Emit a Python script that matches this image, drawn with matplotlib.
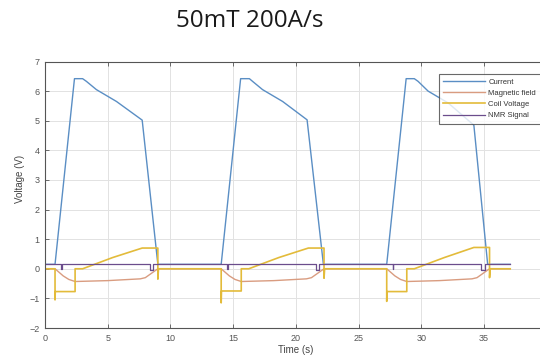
import numpy as np
import matplotlib
matplotlib.use("Agg")
import matplotlib.pyplot as plt

plt.rcParams['font.family'] = ['Liberation Sans', 'DejaVu Sans']

# --- measured traces (time in s, values in V) ---
t_current = [0.0, 0.8, 2.35, 3.0, 3.3, 4.1, 5.7, 7.75, 9.0,
             14.05, 15.6, 16.3, 16.55, 17.35, 18.95, 20.9, 22.2,
             27.25, 28.8, 29.45, 29.75, 30.55, 32.15, 34.2, 35.3, 37.1]
current = [0.15, 0.15, 6.42, 6.42, 6.33, 6.05, 5.65, 5.02, 0.15,
           0.15, 6.42, 6.42, 6.33, 6.05, 5.65, 5.03, 0.15,
           0.15, 6.42, 6.42, 6.33, 6.0, 5.6, 4.85, 0.15, 0.15]

t_field = [0.0, 0.8, 1.45, 1.9, 2.4, 5.0, 7.6, 8.0, 8.5, 9.0,
           14.05, 14.7, 15.15, 15.65, 18.25, 20.85, 21.25, 21.75, 22.25,
           27.25, 27.9, 28.35, 28.85, 31.45, 34.05, 34.45, 34.95, 35.45, 37.1]
field = [0.0, 0.0, -0.24, -0.36, -0.43, -0.4, -0.34, -0.3, -0.15, 0.0,
         0.0, -0.24, -0.36, -0.43, -0.4, -0.34, -0.3, -0.15, 0.0,
         0.0, -0.24, -0.36, -0.43, -0.4, -0.34, -0.3, -0.15, 0.0, 0.0]

t_coil = [0.0, 0.8, 0.8, 0.82, 2.4, 2.4, 3.0, 5.4, 7.75, 8.9, 9.0, 9.0, 9.05,
          14.05, 14.05, 14.07, 15.65, 15.65, 16.25, 18.65, 21.0, 22.15, 22.25, 22.25, 22.3,
          27.25, 27.25, 27.27, 28.85, 28.85, 29.45, 31.85, 34.2, 35.35, 35.45, 35.45, 35.5,
          37.1]
coil = [0.0, 0.0, -1.05, -0.77, -0.77, 0.0, 0.0, 0.38, 0.7, 0.7, 0.7, -0.35, 0.0,
        0.0, -1.15, -0.75, -0.75, 0.0, 0.0, 0.38, 0.7, 0.7, 0.7, -0.32, 0.0,
        0.0, -1.1, -0.77, -0.77, 0.0, 0.0, 0.38, 0.72, 0.72, 0.72, -0.3, 0.0,
        0.0]

t_nmr = [0.0, 1.3, 1.3, 1.32, 1.32, 8.35, 8.35, 8.6, 8.6,
         14.55, 14.55, 14.57, 14.57, 21.6, 21.6, 21.85, 21.85,
         27.75, 27.75, 27.77, 27.77, 34.8, 34.8, 35.05, 35.05, 37.1]
nmr = [0.17, 0.17, 0.0, 0.0, 0.17, 0.17, -0.05, -0.05, 0.17,
       0.17, 0.0, 0.0, 0.17, 0.17, -0.05, -0.05, 0.17,
       0.17, 0.0, 0.0, 0.17, 0.17, -0.05, -0.05, 0.17, 0.17]

x_ticks = [0, 5, 10, 15, 20, 25, 30, 35]
y_ticks = [-2, -1, 0, 1, 2, 3, 4, 5, 6, 7]

fig = plt.figure(figsize=(5.4, 3.64), dpi=100)
# axes run on past the right edge of the figure (x up to 40 s)
ax = fig.add_axes([45/540, 1 - 328/364, 501.6/540, 266.5/364])

ax.plot(t_current, current, color='#5a8ec4', lw=1.0, label='Current')
ax.plot(t_field, field, color='#d99c80', lw=1.0, label='Magnetic field')
ax.plot(t_coil, coil, color='#e3bb3a', lw=1.2, label='Coil Voltage')
ax.plot(t_nmr, nmr, color='#6b4d8c', lw=0.9, label='NMR Signal')

ax.set_xlim(0, 40)
ax.set_ylim(-2, 7)
ax.set_xticks(x_ticks)
ax.set_yticks(y_ticks)
ax.grid(True, color='#e2e2e2', lw=0.7)
ax.set_axisbelow(True)
ax.tick_params(direction='in', length=3, width=0.6, labelsize=6.5,
               colors='#555555', top=True, right=True, pad=4)
for sp in ax.spines.values():
    sp.set_color('#555555')
    sp.set_linewidth(0.8)

ax.set_xlabel('Time (s)', fontsize=7, color='#444444', labelpad=2)
ax.set_ylabel('Voltage (V)', fontsize=7, color='#444444', labelpad=3)
ax.yaxis.set_label_coords(-0.04, 0.56)

leg = ax.legend(loc='upper left', bbox_to_anchor=(435/540, 1 - 70/364),
                bbox_transform=fig.transFigure, fontsize=5.5, frameon=True,
                fancybox=False, edgecolor='#444444', handlelength=5.5,
                handletextpad=0.4, labelspacing=0.5, borderpad=0.6)
leg.get_frame().set_linewidth(0.8)
for txt in leg.get_texts():
    txt.set_color('#333333')

fig.text(250/540, 1 - 21/364, '50mT 200A/s', fontsize=17.5, family='Open Sans',
         ha='center', va='center', color='#1a1a1a')

fig.savefig('out.png', dpi=100)
